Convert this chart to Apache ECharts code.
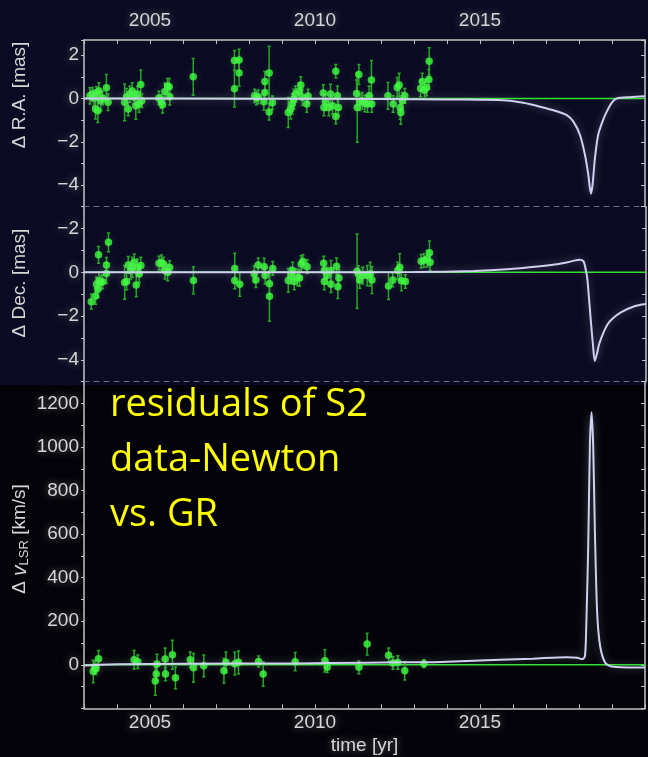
<!DOCTYPE html>
<html>
<head>
<meta charset="utf-8">
<script src="https://cdn.jsdelivr.net/npm/echarts@6/dist/echarts.min.js"></script>
<style>
  html, body { margin: 0; padding: 0; background: #030309; }
  #chart { width: 648px; height: 757px; }
</style>
</head>
<body>
<div id="chart"></div>
<script>
// ---- time axis -------------------------------------------------------------
const timeRange = [2003, 2020];
const timeTickLabels = [2005, 2010, 2015];

// ---- tick labels of the three panels -----------------------------------------
const raTickLabels  = { '2': '2', '0': '0', '-2': '\u22122', '-4': '\u22124' };
const decTickLabels = { '2': '\u22122', '0': '0', '-2': '\u22122', '-4': '\u22124' };
const rvTickLabels  = { '0': '0', '200': '200', '400': '400', '600': '600', '800': '800', '1000': '1000', '1200': '1200' };

// ---- S2 residuals: [epoch (yr), residual, 1-sigma error] ---------------------
const raPoints = [
  [2003.18, 0.12, 0.38], [2003.25, 0.20, 0.31], [2003.30, 0.02, 0.38], [2003.35, -0.49, 0.46],
  [2003.38, 0.23, 0.31], [2003.42, -0.57, 0.54], [2003.45, 0.35, 0.38], [2003.51, -0.11, 0.46],
  [2003.56, 0.02, 0.31], [2003.68, 0.49, 0.62], [2003.73, -0.18, 0.38],
  [2004.23, -0.18, 0.85], [2004.29, 0.08, 0.38], [2004.34, -0.49, 0.31], [2004.39, 0.20, 0.38],
  [2004.46, 0.35, 0.38], [2004.52, 0.05, 0.31], [2004.57, -0.34, 0.62], [2004.62, 0.20, 0.38],
  [2004.67, -0.26, 0.38], [2004.72, 0.65, 0.66], [2004.75, -0.11, 0.31],
  [2005.27, 0.02, 0.31], [2005.34, -0.14, 0.31], [2005.38, -0.29, 0.38], [2005.45, 0.32, 0.38],
  [2005.53, 0.58, 0.34], [2005.58, 0.54, 0.38], [2005.60, 0.08, 0.38],
  [2006.31, 1.00, 0.85],
  [2007.56, 1.75, 0.46], [2007.56, 0.45, 0.85], [2007.70, 1.78, 0.49], [2007.70, 1.18, 0.62],
  [2008.17, 0.12, 0.31], [2008.23, 0.02, 0.31], [2008.28, 0.08, 0.31], [2008.45, -0.15, 0.38],
  [2008.48, 0.78, 0.46], [2008.48, 0.28, 0.38], [2008.61, 1.18, 1.23], [2008.61, -0.62, 0.38],
  [2008.71, -0.20, 0.31],
  [2009.19, -0.65, 0.69], [2009.26, -0.49, 0.46], [2009.31, -0.26, 0.46], [2009.36, -0.03, 0.46],
  [2009.41, 0.20, 0.38], [2009.52, 0.35, 0.38], [2009.57, 0.62, 0.38], [2009.62, 0.05, 0.38],
  [2009.75, -0.26, 0.38], [2009.79, 0.11, 0.31],
  [2010.25, 0.25, 0.38], [2010.27, -0.42, 0.38], [2010.32, -0.18, 0.38], [2010.42, -0.42, 0.38],
  [2010.47, 0.20, 0.46], [2010.53, -0.34, 0.38], [2010.63, 1.26, 0.31], [2010.63, -0.83, 0.34],
  [2010.68, 0.12, 0.46], [2010.71, -0.42, 0.38],
  [2011.26, 0.23, 0.62], [2011.28, -0.42, 1.60], [2011.33, 1.11, 0.46], [2011.36, -0.18, 0.38],
  [2011.43, -0.11, 0.38], [2011.51, -0.23, 0.38], [2011.59, -0.26, 0.38], [2011.64, 0.12, 0.46],
  [2011.71, 0.85, 0.90], [2011.72, -0.26, 0.38],
  [2012.21, 0.12, 0.62], [2012.37, -0.26, 0.38], [2012.49, 0.51, 0.46], [2012.55, 0.62, 0.54],
  [2012.58, -0.42, 0.54], [2012.60, -0.65, 0.54], [2012.65, -0.11, 0.38], [2012.72, 0.12, 0.34],
  [2013.20, 0.46, 0.38], [2013.25, 0.78, 0.38], [2013.32, 0.38, 0.38], [2013.38, 0.51, 0.38],
  [2013.45, 0.88, 0.46], [2013.46, 1.72, 0.62]
];

const decPoints = [
  [2003.22, -1.34, 0.34], [2003.35, -1.08, 0.38], [2003.38, -0.54, 0.31], [2003.42, -0.77, 0.38],
  [2003.45, -0.38, 0.38], [2003.51, -0.46, 0.31], [2003.56, -0.43, 0.31], [2003.44, 0.80, 0.38],
  [2003.68, 0.34, 0.34], [2003.68, -0.05, 0.46], [2003.74, 1.37, 0.43],
  [2004.23, -0.46, 0.77], [2004.29, -0.42, 0.38], [2004.34, 0.34, 0.38], [2004.41, 0.08, 0.38],
  [2004.46, 0.23, 0.46], [2004.52, 0.46, 0.38], [2004.58, -0.58, 0.54], [2004.62, 0.23, 0.38],
  [2004.67, -0.08, 0.38], [2004.72, 0.31, 0.38],
  [2005.27, 0.42, 0.31], [2005.34, 0.45, 0.34], [2005.40, 0.38, 0.31], [2005.45, 0.08, 0.38],
  [2005.53, 0.00, 0.38], [2005.59, 0.22, 0.31],
  [2006.31, -0.37, 0.62],
  [2007.56, 0.18, 0.69], [2007.56, -0.37, 0.38], [2007.71, -0.55, 0.54],
  [2008.15, -0.08, 0.38], [2008.20, -0.35, 0.34], [2008.27, 0.34, 0.31], [2008.45, 0.26, 0.38],
  [2008.48, -0.15, 0.38], [2008.61, -0.52, 0.46], [2008.61, -1.09, 1.15], [2008.71, 0.18, 0.31],
  [2009.18, -0.37, 0.54], [2009.26, -0.15, 0.38], [2009.31, 0.08, 0.38], [2009.36, -0.42, 0.38],
  [2009.46, -0.23, 0.38], [2009.52, -0.26, 0.38], [2009.57, 0.38, 0.38], [2009.62, 0.49, 0.31],
  [2009.75, 0.26, 0.31],
  [2010.25, 0.42, 0.31], [2010.27, 0.08, 0.38], [2010.27, -0.42, 0.38], [2010.35, -0.15, 0.38],
  [2010.47, 0.08, 0.46], [2010.47, -0.54, 0.38], [2010.64, 0.28, 0.38], [2010.68, -0.66, 0.54],
  [2010.71, -0.26, 0.38],
  [2011.26, 0.05, 1.70], [2011.30, -0.08, 0.38], [2011.34, -0.35, 0.38], [2011.43, -0.15, 0.38],
  [2011.57, -0.15, 0.46], [2011.66, -0.08, 0.54], [2011.71, -0.35, 0.62],
  [2012.21, -0.62, 0.62], [2012.34, -0.35, 0.31], [2012.49, 0.08, 0.38], [2012.55, 0.23, 0.62],
  [2012.60, -0.38, 0.46], [2012.72, -0.42, 0.31],
  [2013.20, 0.51, 0.31], [2013.28, 0.54, 0.31], [2013.38, 0.62, 0.38], [2013.45, 0.89, 0.54],
  [2013.47, 0.46, 0.38]
];

const rvPoints = [
  [2003.28, -31, 52], [2003.32, -14, 30], [2003.36, -20, 25], [2003.44, 27, 38],
  [2004.52, 23, 42], [2004.63, 14, 31],
  [2005.16, -75, 65], [2005.19, -43, 30], [2005.21, 4, 44], [2005.46, 26, 51],
  [2005.47, -43, 30], [2005.68, 46, 67], [2005.77, -60, 50],
  [2006.22, 23, 36], [2006.32, -14, 66], [2006.63, -5, 50],
  [2007.24, -28, 57], [2007.30, 11, 48], [2007.57, 5, 52], [2007.68, 11, 52],
  [2008.29, 15, 25], [2008.43, -43, 56],
  [2009.40, 14, 42],
  [2010.30, 18, 51], [2010.37, -11, 25],
  [2011.33, -12, 29], [2011.58, 95, 50],
  [2012.23, 44, 33], [2012.36, 8, 29], [2012.51, 10, 31], [2012.72, -28, 42],
  [2013.30, 5, 18]
];

// ---- GR minus Newton prediction along the orbit ----------------------------
const raModel = [
  [2003.0, 0.00], [2008.0, -0.01], [2012.0, -0.03], [2014.0, -0.05], [2015.0, -0.06],
  [2015.8, -0.09], [2016.31, -0.20], [2016.82, -0.38], [2017.32, -0.59], [2017.63, -0.77],
  [2017.83, -1.07], [2018.03, -1.69], [2018.18, -2.60], [2018.28, -3.50], [2018.36, -4.40],
  [2018.41, -4.00], [2018.48, -2.80], [2018.58, -1.69], [2018.71, -1.07], [2018.84, -0.61],
  [2018.99, -0.20], [2019.14, 0.00], [2019.55, 0.06], [2020.0, 0.10]
];
const decModel = [
  [2003.0, 0.00], [2010.0, 0.00], [2013.0, 0.01], [2014.8, 0.06], [2015.8, 0.14],
  [2016.8, 0.28], [2017.3, 0.37], [2017.63, 0.46], [2017.98, 0.57], [2018.11, 0.50],
  [2018.18, 0.10], [2018.23, -0.37], [2018.33, -2.20], [2018.40, -3.40], [2018.45, -4.05],
  [2018.52, -3.70], [2018.58, -3.30], [2018.70, -2.80], [2018.84, -2.37], [2019.0, -2.10],
  [2019.24, -1.83], [2019.65, -1.55], [2020.0, -1.45]
];
const rvModel = [
  [2003.0, -3], [2004.0, 2], [2006.0, 5], [2009.4, 6], [2010.5, 8], [2012.6, 11],
  [2013.6, 12], [2015.6, 23], [2016.6, 28], [2017.63, 35], [2017.95, 32], [2018.08, 26],
  [2018.13, 28], [2018.18, 40], [2018.21, 120], [2018.28, 546], [2018.33, 1006],
  [2018.38, 1160], [2018.43, 1006], [2018.48, 623], [2018.55, 240], [2018.64, 86],
  [2018.79, 10], [2018.99, -8], [2020.0, -13]
];

// Newtonian reference: zero residual
const newtonBaseline = [[2003.0, 0], [2020.0, 0]];

// ---- styling ----------------------------------------------------------------
const FRAME = '#c4c4c4';
const LABEL = '#d6d6d6';
const GLOW = 'rgba(150,150,150,0.75)';
const FONT = '"Liberation Sans", Arial, sans-serif';
const POINT = '#3cff3c';
const BAR = '#22a822';
const MODEL = '#cfd0f0';
const BASE = '#2fe02f';

const labelStyle = {
  color: LABEL, fontSize: 19, fontFamily: FONT,
  textShadowColor: GLOW, textShadowBlur: 9
};

function yPair(gi, min, max, step, labels) {
  return [
    {
      type: 'value', gridIndex: gi, position: 'left', min: min, max: max, interval: step,
      axisLine: { show: true, onZero: false, lineStyle: { color: FRAME, width: 1.5 } },
      axisTick: { show: true, inside: false, length: 3, lineStyle: { color: FRAME, width: 1 } },
      axisLabel: Object.assign({
        margin: 5, showMinLabel: true, showMaxLabel: true,
        formatter: v => (labels[String(Math.round(v * 1000) / 1000)] || '')
      }, labelStyle),
      splitLine: { show: false }
    },
    {
      type: 'value', gridIndex: gi, position: 'right', min: min, max: max, interval: step,
      axisLine: { show: true, onZero: false, lineStyle: { color: FRAME, width: 1.5 } },
      axisTick: { show: true, inside: true, length: 4, lineStyle: { color: FRAME, width: 1 } },
      axisLabel: { show: false },
      splitLine: { show: false }
    }
  ];
}

function timeAxis(gi, position, opts) {
  const base = {
    type: 'value', gridIndex: gi, position: position,
    min: timeRange[0], max: timeRange[1], interval: 1,
    splitLine: { show: false }
  };
  return Object.assign(base, opts);
}

const yearLabel = v => (timeTickLabels.indexOf(Math.round(v)) >= 0 && Math.abs(v - Math.round(v)) < 1e-6) ? String(Math.round(v)) : '';

const xAxes = [
  timeAxis(0, 'top', {
    axisLine: { show: true, onZero: false, lineStyle: { color: FRAME, width: 1.5 } },
    axisTick: { show: true, inside: true, length: 4, lineStyle: { color: FRAME } },
    axisLabel: Object.assign({ margin: 10, formatter: yearLabel }, labelStyle)
  }),
  timeAxis(1, 'top', {
    axisLine: { show: true, onZero: false, lineStyle: { color: '#6c6c78', width: 1, type: [5, 5] } },
    axisTick: { show: false }, axisLabel: { show: false }
  }),
  timeAxis(2, 'bottom', {
    axisLine: { show: true, onZero: false, lineStyle: { color: FRAME, width: 1.5 } },
    axisTick: { show: true, inside: true, length: 4, lineStyle: { color: FRAME } },
    axisLabel: Object.assign({ margin: 5, formatter: yearLabel }, labelStyle),
    name: 'time [yr]', nameLocation: 'middle', nameGap: 28,
    nameTextStyle: Object.assign({}, labelStyle)
  }),
  timeAxis(2, 'top', {
    axisLine: { show: true, onZero: false, lineStyle: { color: '#6c6c78', width: 1, type: [5, 5] } },
    axisTick: { show: false }, axisLabel: { show: false }
  })
];

const yAxes = []
  .concat(yPair(0, -5, 2.7, 1, raTickLabels))
  .concat(yPair(1, -5, 3, 1, decTickLabels))
  .concat(yPair(2, -200, 1300, 100, rvTickLabels));

function errorBars(xi, yi, data) {
  return {
    type: 'custom', xAxisIndex: xi, yAxisIndex: yi, data: data, z: 3, clip: true,
    encode: { x: 0, y: 1 },
    renderItem: (params, api) => {
      const t = api.value(0), v = api.value(1), e = api.value(2);
      const hi = api.coord([t, v + e]);
      const lo = api.coord([t, v - e]);
      const cap = 1.6;
      const st = { stroke: BAR, lineWidth: 1.5 };
      return {
        type: 'group',
        children: [
          { type: 'line', shape: { x1: hi[0], y1: hi[1], x2: lo[0], y2: lo[1] }, style: st },
          { type: 'line', shape: { x1: hi[0] - cap, y1: hi[1], x2: hi[0] + cap, y2: hi[1] }, style: st },
          { type: 'line', shape: { x1: lo[0] - cap, y1: lo[1], x2: lo[0] + cap, y2: lo[1] }, style: st }
        ]
      };
    }
  };
}

function panelSeries(xi, yi, points, model) {
  return [
    {
      type: 'line', xAxisIndex: xi, yAxisIndex: yi, data: newtonBaseline, symbol: 'none', z: 2,
      lineStyle: { color: BASE, width: 1.5 }, silent: true
    },
    errorBars(xi, yi, points),
    {
      type: 'scatter', xAxisIndex: xi, yAxisIndex: yi, data: points.map(p => [p[0], p[1]]),
      symbol: 'circle', symbolSize: 7.5, z: 4,
      itemStyle: { color: POINT, shadowColor: 'rgba(170,170,170,0.3)', shadowBlur: 10 }
    },
    {
      type: 'line', xAxisIndex: xi, yAxisIndex: yi, data: model, symbol: 'none', z: 5,
      smooth: 0.25, lineStyle: { color: MODEL, width: 2, shadowColor: 'rgba(200,200,225,0.45)', shadowBlur: 8 },
      silent: true
    }
  ];
}

const chart = echarts.init(document.getElementById('chart'), null, { renderer: 'canvas' });

chart.setOption({
  backgroundColor: '#030309',
  animation: false,
  grid: [
    { left: 84, right: 2, top: 40, height: 166.7 },
    { left: 84, right: 2, top: 206.7, height: 175 },
    { left: 84, right: 2, top: 381.7, height: 326.6 }
  ],
  xAxis: xAxes,
  yAxis: yAxes,
  graphic: [
    {
      type: 'rect', z: -100, silent: true,
      shape: { x: 0, y: 0, width: 648, height: 385 },
      style: { fill: '#0a0a22' }
    },
    {
      type: 'text', x: 20, y: 95, rotation: Math.PI / 2, silent: true,
      style: {
        text: '\u0394 R.A. [mas]', fill: LABEL, font: '19px ' + FONT,
        align: 'center', verticalAlign: 'middle', shadowColor: GLOW, shadowBlur: 9
      }
    },
    {
      type: 'text', x: 20, y: 283, rotation: Math.PI / 2, silent: true,
      style: {
        text: '\u0394 Dec. [mas]', fill: LABEL, font: '19px ' + FONT,
        align: 'center', verticalAlign: 'middle', shadowColor: GLOW, shadowBlur: 9
      }
    },
    {
      type: 'text', x: 20, y: 539, rotation: Math.PI / 2, silent: true,
      style: {
        text: '\u0394 {it|v}{sub|LSR} [km/s]', fill: LABEL, font: '19px ' + FONT,
        align: 'center', verticalAlign: 'middle', shadowColor: GLOW, shadowBlur: 9,
        rich: {
          it: { fontStyle: 'italic', fontSize: 21, fontFamily: FONT, fill: LABEL },
          sub: { fontSize: 13, fontFamily: FONT, fill: LABEL, padding: [8, 0, 0, 0] }
        }
      }
    },
    {
      type: 'group', silent: true, z: 100,
      children: [
        { type: 'text', x: 110, y: 405, style: { text: 'residuals of S2', fill: '#ffff00', font: '38px "Open Sans", sans-serif', verticalAlign: 'middle' } },
        { type: 'text', x: 110, y: 460, style: { text: 'data-Newton', fill: '#ffff00', font: '38px "Open Sans", sans-serif', verticalAlign: 'middle' } },
        { type: 'text', x: 110, y: 515, style: { text: 'vs. GR', fill: '#ffff00', font: '38px "Open Sans", sans-serif', verticalAlign: 'middle' } }
      ]
    }
  ],
  series: []
    .concat(panelSeries(0, 0, raPoints, raModel))
    .concat(panelSeries(1, 2, decPoints, decModel))
    .concat(panelSeries(2, 4, rvPoints, rvModel))
});
</script>
</body>
</html>
